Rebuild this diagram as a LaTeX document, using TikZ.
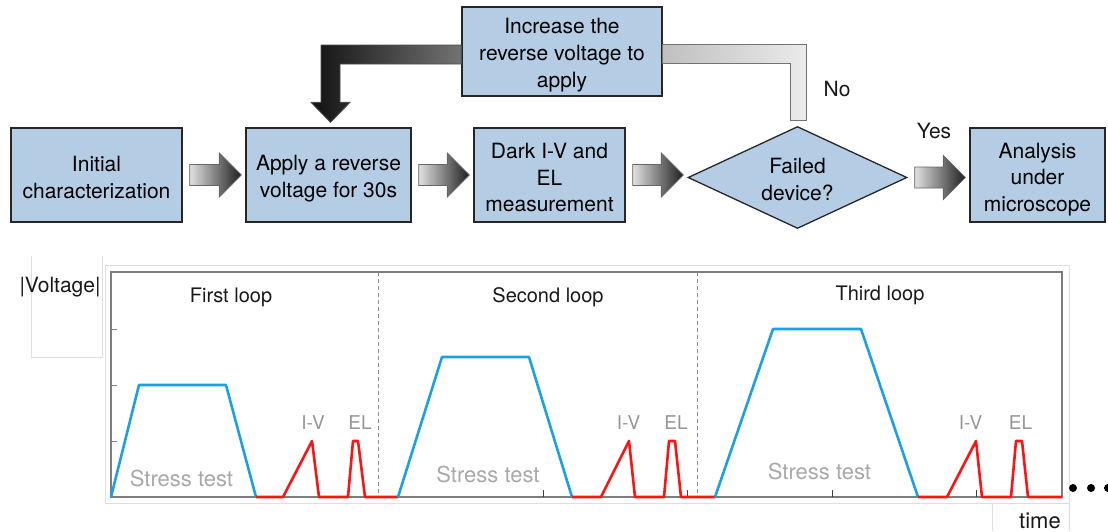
\documentclass[tikz,border=0pt]{standalone}
\usepackage{fontspec}
\setmainfont{TeX Gyre Heros}
\usetikzlibrary{shapes.geometric,calc}
\definecolor{boxblue}{RGB}{181,205,228}
\definecolor{curveblue}{RGB}{27,161,226}
\definecolor{curvered}{RGB}{250,20,20}
\definecolor{framegray}{RGB}{125,125,125}
\definecolor{lightframe}{RGB}{222,222,222}
\definecolor{labelgray}{RGB}{168,168,168}
\definecolor{smallgray}{RGB}{150,150,150}
\newcommand\hblock[2]{%
  \shadedraw[blockarrow] let \p1=(#1.east), \p2=(#2.west) in
    (\x1+7pt,\y1+10.5pt) -- (\x2-26pt,\y1+10.5pt) -- (\x2-26pt,\y1+22pt) --
    (\x2-4pt,\y1) -- (\x2-26pt,\y1-22pt) -- (\x2-26pt,\y1-10.5pt) --
    (\x1+7pt,\y1-10.5pt) -- cycle;}
\begin{document}
\begin{tikzpicture}[x=1pt,y=-1pt,
  flowbox/.style={draw=black!85, line width=1.3pt, fill=boxblue, inner sep=0pt},
  boxtext/.style={align=center, inner sep=0pt, font=\fontsize{21}{26.5}\selectfont},
  decision/.style={diamond, aspect=2.15, draw=black!85, line width=1.3pt, fill=boxblue,
    inner sep=0pt, minimum width=219pt, minimum height=102pt},
  blockarrow/.style={draw=black!60, line width=0.8pt, left color=black!12, right color=black!88},
  bentdark/.style={draw=black!70, line width=0.8pt, left color=black!93, right color=black!55},
  bentlight/.style={draw=black!55, line width=0.8pt, left color=black!25, right color=black!8},
  looplabel/.style={anchor=base, inner sep=0pt, text=black!90, font=\fontsize{20}{24}\selectfont},
  stresslabel/.style={anchor=base, inner sep=0pt, text=labelgray, font=\fontsize{22}{26}\selectfont},
  measlabel/.style={anchor=base, inner sep=0pt, text=smallgray, font=\fontsize{19}{23}\selectfont},
  curve/.style={line width=2.6pt, line join=round},
  plainlabel/.style={inner sep=0pt, text=black!90, font=\fontsize{21}{25}\selectfont}]
\useasboundingbox (0,0) rectangle (1108,531);

% ---------- flowchart ----------
\node[flowbox, minimum width=171pt, minimum height=94pt] (b1) at (96.5,175) {};
\node[flowbox, minimum width=165pt, minimum height=94pt] (b2) at (328.5,175) {};
\node[flowbox, minimum width=151pt, minimum height=94pt] (b3) at (549.5,175) {};
\node[decision] (dia) at (797.5,177.5) {};
\node[flowbox, minimum width=135pt, minimum height=94pt] (b5) at (1037.5,175) {};
\node[flowbox, minimum width=200pt, minimum height=89pt] (inc) at (562,51.5) {};

\node[boxtext] (t1) at ($(b1)+(0,2.5)$) {Initial\\characterization};
\node[boxtext] (t2) at ($(b2)+(0,3.5)$) {Apply a reverse\\voltage for 30s};
\node[boxtext] (t3) at ($(b3)+(0,2.5)$) {Dark I-V and\\EL\\measurement};
\node[boxtext, font=\fontsize{21}{27}\selectfont] (td) at ($(dia)+(0,1.5)$) {Failed\\device?};
\node[boxtext] (t5) at ($(b5)+(0,4.5)$) {Analysis\\under\\microscope};
\node[boxtext, font=\fontsize{21}{27}\selectfont] (ti) at ($(inc)+(0,4)$) {Increase the\\reverse voltage to\\apply};

\hblock{b1}{b2}
\hblock{b2}{b3}
\hblock{b3}{dia}
\hblock{dia}{b5}

% feedback arrows
\shadedraw[bentlight] let \p1=(inc.east), \p2=(dia.north) in
  (\x1,\y1+7.5pt) -- (\x2+8.5pt,\y1+7.5pt) -- (\x2+8.5pt,\y2+5pt) --
  (\x2-7.5pt,\y2+5pt) -- (\x2-7.5pt,\y1-11.5pt) -- (\x1,\y1-11.5pt) -- cycle;
\shadedraw[bentdark] let \p1=(inc.west), \p2=(b2.north) in
  (\x1,\y1+6.5pt) -- (\x2-7.5pt,\y1+6.5pt) -- (\x2-7.5pt,\y2+25pt) --
  (\x2-17.5pt,\y2+25pt) -- (\x2+2pt,\y2+5pt) -- (\x2+21.5pt,\y2+25pt) --
  (\x2+11.5pt,\y2+25pt) -- (\x2+11.5pt,\y1-12.5pt) -- (\x1,\y1-12.5pt) -- cycle;

\node[plainlabel] (no) at (837,89) {No};
\node[plainlabel] (yes) at (934,131) {Yes};

% ---------- chart ----------
\draw[lightframe, line width=1pt] (105,265) rectangle (1069,503);
\draw[lightframe, line width=1pt] (1069,503) -- (1069,531) (992,503) -- (992,531);
\draw[lightframe, line width=1pt] (31,256) -- (31,357) -- (102,357) -- (102,256);
\node[plainlabel] (vlab) at (60,287) {|Voltage|};

\draw[framegray, line width=1.2pt] (111,272) rectangle (1062,497);
\foreach \yy in {329,385,441} \draw[framegray, line width=1pt] (111,\yy) -- (117,\yy);
\foreach \xx in {543,687,832,976} \draw[black!75, line width=1pt] (\xx,497) -- (\xx,490);
\draw[black!45, line width=0.8pt, dash pattern=on 4pt off 3pt] (378,272) -- (378,497) (697,272) -- (697,497);

\node[looplabel] (l1) at (231,302) {First loop};
\node[looplabel] (l2) at (548,302) {Second loop};
\node[looplabel] (l3) at (880,300) {Third loop};

\node[stresslabel] (s1) at (181.5,486) {Stress test};
\node[stresslabel] (s2) at (488,482) {Stress test};
\node[stresslabel] (s3) at (819.5,479) {Stress test};

\node[measlabel] (iv1) at (313,429) {I-V};
\node[measlabel] (el1) at (360,429) {EL};
\node[measlabel] (iv2) at (628.5,429) {I-V};
\node[measlabel] (el2) at (676,429) {EL};
\node[measlabel] (iv3) at (970.5,429) {I-V};
\node[measlabel] (el3) at (1020.5,429) {EL};

\draw[curve, curveblue] (111,497) -- (139,385) -- (226,385) -- (256,497);
\draw[curve, curvered] (256,497) -- (283,497) -- (312,441) -- (319,497) -- (348,497) -- (353,441) -- (358,441) -- (365,497) -- (398,497);
\draw[curve, curveblue] (398,497) -- (442,357) -- (529,357) -- (572,497);
\draw[curve, curvered] (572,497) -- (601,497) -- (629,441) -- (635,497) -- (664,497) -- (669,441) -- (675,441) -- (681,497) -- (715,497);
\draw[curve, curveblue] (715,497) -- (773,329) -- (861,329) -- (918,497);
\draw[curve, curvered] (918,497) -- (947,497) -- (976,441) -- (982,497) -- (1011,497) -- (1016,441) -- (1022,441) -- (1028,497) -- (1062,497);

\fill[black] (1073,488) circle (4pt) (1091,488) circle (4pt) (1108,488) circle (4pt);

\node[inner sep=0pt, anchor=base, text=black!90, font=\fontsize{22}{26}\selectfont] (tlab) at (1040,528) {time};
\end{tikzpicture}
\end{document}
